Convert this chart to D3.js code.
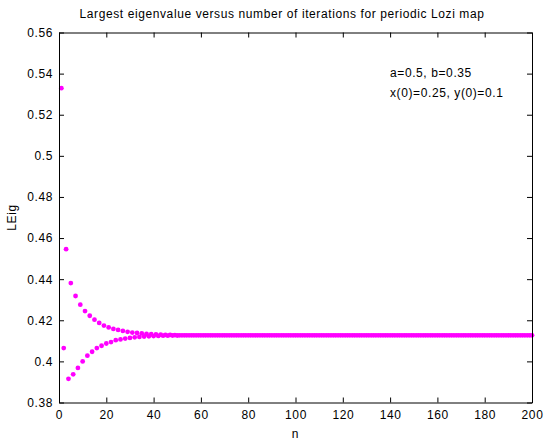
<!DOCTYPE html>
<html>
<head>
<meta charset="utf-8">
<script src="https://cdn.jsdelivr.net/npm/d3@7"></script>
<style>
  body { margin: 0; background: #fff; }
  text { font-family: "Liberation Sans", Arial, sans-serif; letter-spacing: 0.6px; }
</style>
</head>
<body>
<div id="chart"></div>
<script>
// Largest eigenvalue per iteration (n = 1..200)
const lEig = [
  0.5329, 0.4065, 0.4546, 0.3915, 0.4381, 0.3937, 0.4318, 0.3968, 0.4276, 0.4000,
  0.4245, 0.4028, 0.4222, 0.4047, 0.4203, 0.4065, 0.4187, 0.4076, 0.4174, 0.4087,
  0.4165, 0.4094, 0.4158, 0.4103, 0.4153, 0.4107, 0.4148, 0.4111, 0.4144, 0.4114,
  0.4140, 0.4117, 0.4138, 0.4119, 0.4136, 0.4121, 0.4134, 0.4122, 0.4132, 0.4123,
  0.4131, 0.4124, 0.4130, 0.4125, 0.4129, 0.4125, 0.4129, 0.4126, 0.4128, 0.4126,
  0.4127, 0.4127, 0.4127, 0.4127, 0.4127, 0.4127, 0.4127, 0.4127, 0.4127, 0.4127,
  0.4127, 0.4127, 0.4127, 0.4127, 0.4127, 0.4127, 0.4127, 0.4127, 0.4127, 0.4127,
  0.4127, 0.4127, 0.4127, 0.4127, 0.4127, 0.4127, 0.4127, 0.4127, 0.4127, 0.4127,
  0.4127, 0.4127, 0.4127, 0.4127, 0.4127, 0.4127, 0.4127, 0.4127, 0.4127, 0.4127,
  0.4127, 0.4127, 0.4127, 0.4127, 0.4127, 0.4127, 0.4127, 0.4127, 0.4127, 0.4127,
  0.4127, 0.4127, 0.4127, 0.4127, 0.4127, 0.4127, 0.4127, 0.4127, 0.4127, 0.4127,
  0.4127, 0.4127, 0.4127, 0.4127, 0.4127, 0.4127, 0.4127, 0.4127, 0.4127, 0.4127,
  0.4127, 0.4127, 0.4127, 0.4127, 0.4127, 0.4127, 0.4127, 0.4127, 0.4127, 0.4127,
  0.4127, 0.4127, 0.4127, 0.4127, 0.4127, 0.4127, 0.4127, 0.4127, 0.4127, 0.4127,
  0.4127, 0.4127, 0.4127, 0.4127, 0.4127, 0.4127, 0.4127, 0.4127, 0.4127, 0.4127,
  0.4127, 0.4127, 0.4127, 0.4127, 0.4127, 0.4127, 0.4127, 0.4127, 0.4127, 0.4127,
  0.4127, 0.4127, 0.4127, 0.4127, 0.4127, 0.4127, 0.4127, 0.4127, 0.4127, 0.4127,
  0.4127, 0.4127, 0.4127, 0.4127, 0.4127, 0.4127, 0.4127, 0.4127, 0.4127, 0.4127,
  0.4127, 0.4127, 0.4127, 0.4127, 0.4127, 0.4127, 0.4127, 0.4127, 0.4127, 0.4127,
  0.4127, 0.4127, 0.4127, 0.4127, 0.4127, 0.4127, 0.4127, 0.4127, 0.4127, 0.4127
];
const xTicks = [0, 20, 40, 60, 80, 100, 120, 140, 160, 180, 200];
const yTicks = [0.38, 0.4, 0.42, 0.44, 0.46, 0.48, 0.5, 0.52, 0.54, 0.56];
const notes = ['a=0.5, b=0.35', 'x(0)=0.25, y(0)=0.1'];

const width = 544, height = 441;
const margin = { top: 32.5, right: 12, bottom: 38.5, left: 59 };
const fontSize = 12;

const svg = d3.select('#chart').append('svg')
  .attr('width', width)
  .attr('height', height);

const x = d3.scaleLinear().domain([0, 200]).range([margin.left, width - margin.right]);
const y = d3.scaleLinear().domain([0.38, 0.56]).range([height - margin.bottom, margin.top]);

// data points
svg.append('g')
  .selectAll('circle')
  .data(lEig)
  .enter()
  .append('circle')
  .attr('cx', (d, i) => x(i + 1))
  .attr('cy', d => y(d))
  .attr('r', 2.4)
  .attr('fill', '#ff00ff');

// axes with inward ticks on all sides
const fmt = d => d3.format('')(+d.toFixed(2));
const tickLen = 5;

svg.append('g')
  .attr('transform', `translate(0,${y.range()[0]})`)
  .call(d3.axisBottom(x).tickValues(xTicks).tickSizeInner(-tickLen).tickSizeOuter(0).tickPadding(8))
  .call(g => g.selectAll('text').attr('font-size', fontSize).attr('fill', '#000'));

svg.append('g')
  .attr('transform', `translate(0,${y.range()[1]})`)
  .call(d3.axisTop(x).tickValues(xTicks).tickSizeInner(-tickLen).tickSizeOuter(0).tickFormat(''));

svg.append('g')
  .attr('transform', `translate(${x.range()[0]},0)`)
  .call(d3.axisLeft(y).tickValues(yTicks).tickSizeInner(-tickLen).tickSizeOuter(0).tickPadding(6).tickFormat(fmt))
  .call(g => g.selectAll('text').attr('font-size', fontSize).attr('fill', '#000'));

svg.append('g')
  .attr('transform', `translate(${x.range()[1]},0)`)
  .call(d3.axisRight(y).tickValues(yTicks).tickSizeInner(-tickLen).tickSizeOuter(0).tickFormat(''));

svg.selectAll('.domain').attr('stroke', '#000').attr('stroke-width', 1);
svg.selectAll('.tick line').attr('stroke', '#000');

// title and labels
svg.append('text')
  .attr('x', 282)
  .attr('y', 18)
  .attr('text-anchor', 'middle')
  .attr('font-size', fontSize)
  .text('Largest eigenvalue versus number of iterations for periodic Lozi map');

svg.append('text')
  .attr('x', x(100))
  .attr('y', 438)
  .attr('text-anchor', 'middle')
  .attr('font-size', fontSize)
  .text('n');

svg.append('text')
  .attr('transform', `translate(16,${y(0.47)}) rotate(-90)`)
  .attr('text-anchor', 'middle')
  .attr('font-size', fontSize)
  .text('LEig');

svg.append('g')
  .selectAll('text')
  .data(notes)
  .enter()
  .append('text')
  .attr('x', 390)
  .attr('y', (d, i) => 77 + i * 20)
  .attr('font-size', fontSize)
  .text(d => d);
</script>
</body>
</html>
